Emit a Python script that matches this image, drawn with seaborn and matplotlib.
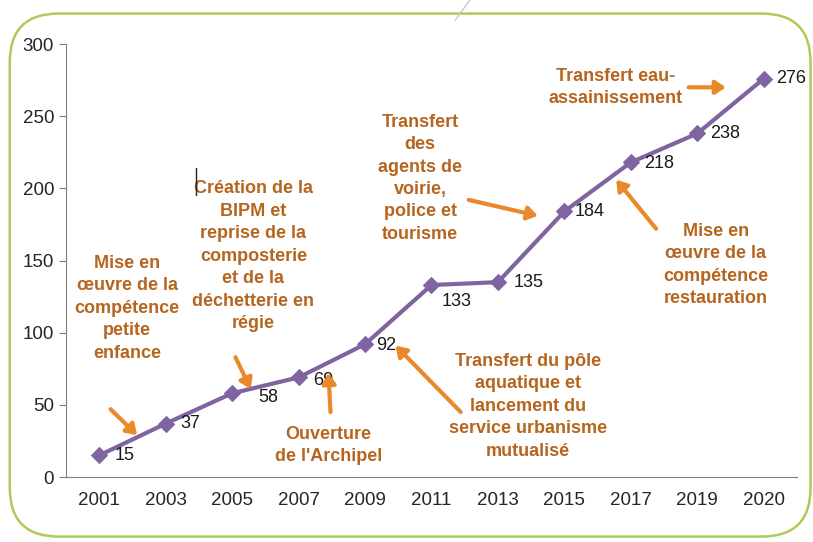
import numpy as np
import pandas as pd
import seaborn as sns
import matplotlib.pyplot as plt
from matplotlib.patches import FancyBboxPatch
from matplotlib.lines import Line2D

# ---- data ----
years = ['2001', '2003', '2005', '2007', '2009', '2011', '2013', '2015', '2017', '2019', '2020']
agents = [15, 37, 58, 69, 92, 133, 135, 184, 218, 238, 276]

LINE = '#8064a2'
TXT = '#b5651d'
ARROW = '#e8892a'

sns.set_style('white')
plt.rcParams['font.family'] = ['Liberation Sans Narrow', 'Liberation Sans', 'DejaVu Sans']

df = pd.DataFrame({'x': np.arange(len(years)), 'y': agents})

fig = plt.figure(figsize=(8.13, 5.42), dpi=100)
ax = fig.add_axes([0.0812, 0.1199, 0.8991, 0.7989])

sns.lineplot(data=df, x='x', y='y', ax=ax, color=LINE, linewidth=3,
             marker='D', markersize=8, markeredgecolor=LINE)

ax.set_xlim(-0.5, len(years) - 0.5)
ax.set_ylim(0, 300)
ax.set_yticks(range(0, 301, 50))
ax.set_xticks(df['x'])
ax.set_xticklabels(years)
ax.set_xticks(np.arange(-0.5, len(years)), minor=True)
ax.tick_params(axis='x', which='major', length=0, labelsize=13.5, pad=11)
ax.tick_params(axis='x', which='minor', length=6, color='#808080', direction='out')
ax.tick_params(axis='y', length=5, color='#808080', labelsize=13.5, left=True)
ax.set_xlabel('')
ax.set_ylabel('')
for s in ['top', 'right']:
    ax.spines[s].set_visible(False)
for s in ['left', 'bottom']:
    ax.spines[s].set_color('#808080')

# value labels (offsets in points)
offsets = {0: (18, 0), 1: (18, 0), 2: (26, -3), 3: (18, -2), 4: (15, -1), 5: (18, -12),
           6: (22, 0), 7: (18, 0), 8: (20, -1), 9: (20, 0), 10: (20, 0)}
for i, v in enumerate(agents):
    ax.annotate(str(v), (i, v), xytext=offsets[i], textcoords='offset points',
                ha='center', va='center', fontsize=13, color='#1a1a1a')

# annotations with orange arrows
notes = [
    ('Mise en\nœuvre de la\ncompétence\npetite\nenfance', (0.42, 117), (0.17, 47), (0.57, 29)),
    ('Création de la\nBIPM et\nreprise de la\ncomposterie\net de la\ndéchetterie en\nrégie', (2.32, 153), (2.05, 83), (2.28, 61)),
    ("Ouverture\nde l'Archipel", (3.45, 22), (3.48, 45), (3.45, 72)),
    ('Transfert du pôle\naquatique et\nlancement du\nservice urbanisme\nmutualisé', (6.45, 49), (5.44, 45), (4.46, 91)),
    ('Transfert\ndes\nagents de\nvoirie,\npolice et\ntourisme', (4.83, 207), (5.56, 192), (6.6, 181)),
    ('Mise en\nœuvre de la\ncompétence\nrestauration', (9.28, 147), (8.38, 172), (7.78, 206)),
    ('Transfert eau-\nassainissement', (7.77, 270), (8.87, 270), (9.43, 270)),
]
for text, pos, a0, a1 in notes:
    ax.text(pos[0], pos[1], text, ha='center', va='center', fontsize=13,
            fontweight='bold', color=TXT, linespacing=1.42)
    ax.annotate('', xy=a1, xytext=a0,
                arrowprops=dict(arrowstyle='-|>,head_length=0.6,head_width=0.4',
                                color=ARROW, lw=3, shrinkA=0, shrinkB=0))

# rounded green frame and stray marks
frame = FancyBboxPatch((0.012, 0.01), 0.985, 0.965, boxstyle='round,pad=0,rounding_size=0.06',
                       transform=fig.transFigure, fill=False, edgecolor='#b3c75a', linewidth=1.8,
                       mutation_aspect=813 / 542)
fig.patches.append(frame)
fig.add_artist(Line2D([0.578, 0.560], [1.0, 0.963], transform=fig.transFigure,
                      color='#c8c8c8', linewidth=1))
fig.add_artist(Line2D([0.241, 0.241], [0.69, 0.64], transform=fig.transFigure,
                      color='#222222', linewidth=1))

fig.savefig('out.png', dpi=100)
